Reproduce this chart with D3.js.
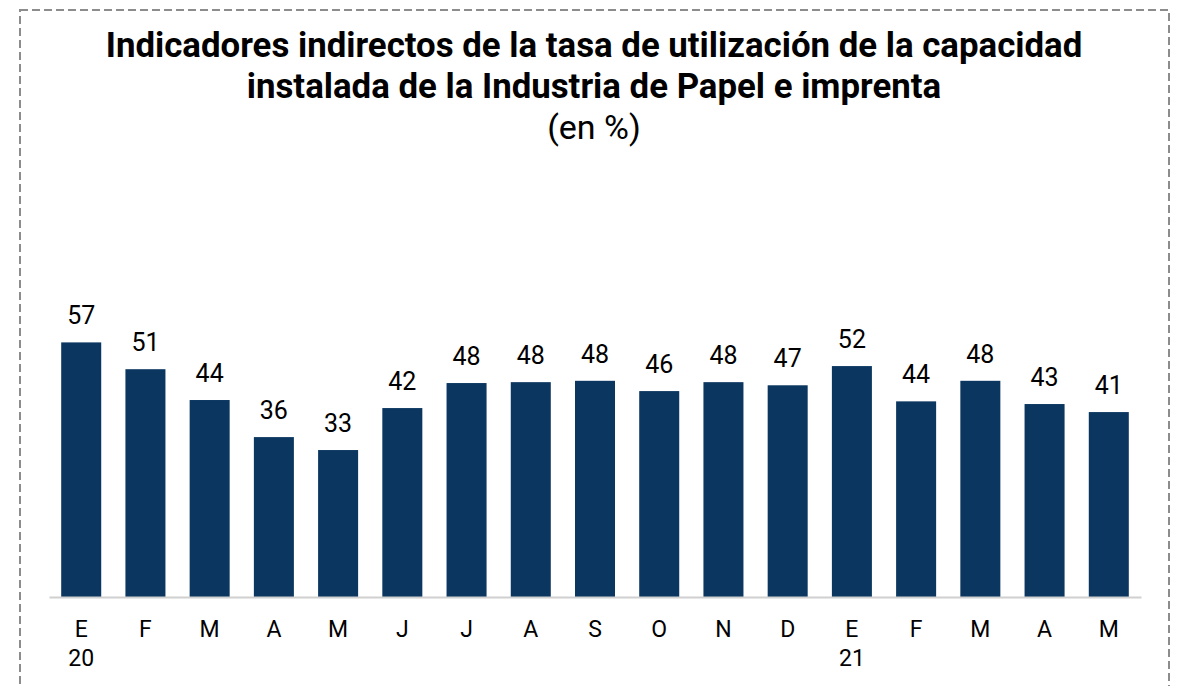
<!DOCTYPE html>
<html>
<head>
<meta charset="utf-8">
<script src="https://cdn.jsdelivr.net/npm/d3@7/dist/d3.min.js"></script>
<style>
  html, body { margin: 0; padding: 0; background: #fff; }
  svg { display: block; font-family: Roboto, "Noto Sans", sans-serif; }
</style>
</head>
<body>
<svg id="chart" width="1180" height="686"></svg>
<script>
const months = ["E", "F", "M", "A", "M", "J", "J", "A", "S", "O", "N", "D", "E", "F", "M", "A", "M"];
const years = ["20", "", "", "", "", "", "", "", "", "", "", "", "21", "", "", "", ""];
const values = [57.0, 51.0, 44.1, 35.8, 32.9, 42.3, 47.9, 48.1, 48.4, 46.1, 48.1, 47.4, 51.7, 43.8, 48.4, 43.2, 41.4];
const titleLines = ["Indicadores indirectos de la tasa de utilización de la capacidad", "instalada de la Industria de Papel e imprenta"];
const subtitle = "(en %)";

const svg = d3.select("#chart");

// dashed frame
svg.append("rect")
  .attr("x", 20).attr("y", 10)
  .attr("width", 1149).attr("height", 700)
  .attr("fill", "none")
  .attr("stroke", "#8c8c8c")
  .attr("stroke-width", 2)
  .attr("stroke-dasharray", "8,4");

// title
svg.append("g").selectAll("text").data(titleLines).join("text")
  .attr("x", 594).attr("y", (d, i) => 57 + i * 41)
  .attr("text-anchor", "middle")
  .attr("font-size", 34.8).attr("font-weight", "bold").attr("fill", "#000")
  .text(d => d);
svg.append("text")
  .attr("x", 594).attr("y", 139)
  .attr("text-anchor", "middle")
  .attr("font-size", 34).attr("fill", "#000")
  .text(subtitle);

const idx = d3.range(values.length);
const x = d3.scaleBand().domain(idx).range([49, 1141]).paddingInner(0.377).paddingOuter(0.19);
const y = d3.scaleLinear().domain([0, 60]).range([597, 329]);

svg.append("g").selectAll("rect").data(values).join("rect")
  .attr("x", (d, i) => x(i))
  .attr("y", d => y(d))
  .attr("width", x.bandwidth())
  .attr("height", d => y(0) - y(d))
  .attr("fill", "#0a3660");

svg.append("g").selectAll("text").data(values).join("text")
  .attr("x", (d, i) => x(i) + x.bandwidth() / 2)
  .attr("y", d => y(d) - 18)
  .attr("text-anchor", "middle")
  .attr("font-size", 25).attr("fill", "#000")
  .text(d => Math.round(d));

// x axis
const xAxis = d3.axisBottom(x).tickSize(0).tickFormat(i => months[i]);
const gx = svg.append("g").attr("transform", "translate(0,597)").call(xAxis);
gx.select(".domain").attr("stroke", "#d0d0d0").attr("stroke-width", 2);
gx.selectAll(".tick text")
  .attr("font-size", 23).attr("fill", "#000")
  .attr("font-family", "Roboto, 'Noto Sans', sans-serif")
  .attr("dy", 0).attr("y", 40);
gx.selectAll(".tick").filter(i => years[i] !== "")
  .append("text")
  .attr("y", 69).attr("text-anchor", "middle")
  .attr("font-size", 23).attr("fill", "#000")
  .attr("font-family", "Roboto, 'Noto Sans', sans-serif")
  .text(i => years[i]);
</script>
</body>
</html>
